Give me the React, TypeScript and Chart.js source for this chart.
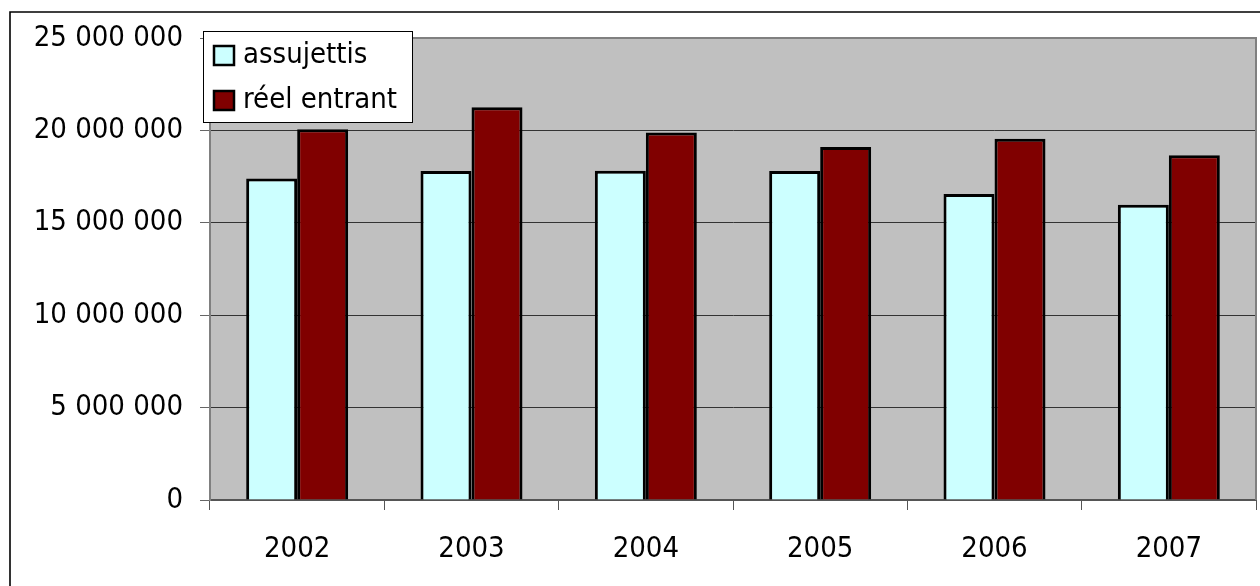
import React, { useEffect, useRef } from "react";
import { Chart, registerables } from "chart.js";

Chart.register(...registerables);

const CATEGORIES = ["2002", "2003", "2004", "2005", "2006", "2007"];
const SERIES_LABELS = ["assujettis", "réel entrant"];
const ASSUJETTIS = [17400000, 17800000, 17820000, 17800000, 16560000, 15980000];
const REEL_ENTRANT = [20060000, 21250000, 19880000, 19100000, 19550000, 18650000];
const Y_TICKS = [0, 5000000, 10000000, 15000000, 20000000, 25000000];

const FONT_FAMILY = "'DejaVu Sans Condensed', 'DejaVu Sans', sans-serif";
const FONT_SIZE = 29;

const fmt = (v: number) => String(Math.round(v)).replace(/\B(?=(\d{3})+(?!\d))/g, " ");

const framePlugin = {
  id: "framePlugin",
  beforeDraw(chart: any) {
    const { ctx, chartArea: a } = chart;
    ctx.save();
    ctx.fillStyle = "#ffffff";
    ctx.fillRect(0, 0, chart.width, chart.height);
    ctx.fillStyle = "#C0C0C0";
    ctx.fillRect(a.left, a.top, a.right - a.left, a.bottom - a.top);
    ctx.restore();
  },
  afterDraw(chart: any) {
    const { ctx, chartArea: a } = chart;
    ctx.save();
    // plot-area border top/right
    ctx.strokeStyle = "#808080";
    ctx.lineWidth = 2;
    ctx.beginPath();
    ctx.moveTo(a.left, a.top);
    ctx.lineTo(a.right, a.top);
    ctx.lineTo(a.right, a.bottom);
    ctx.stroke();
    // outer chart frame (left and top visible)
    ctx.strokeStyle = "#000000";
    ctx.lineWidth = 1.6;
    ctx.beginPath();
    ctx.moveTo(10, chart.height + 5);
    ctx.lineTo(10, 12);
    ctx.lineTo(chart.width + 5, 12);
    ctx.stroke();
    // legend
    const lx = a.left - 7;
    const ly = a.top - 7;
    const lw = 209;
    const lh = 91;
    ctx.fillStyle = "#ffffff";
    ctx.fillRect(lx, ly, lw, lh);
    ctx.strokeStyle = "#000000";
    ctx.lineWidth = 1;
    ctx.strokeRect(lx + 0.5, ly + 0.5, lw, lh);
    ctx.font = `${FONT_SIZE}px ${FONT_FAMILY}`;
    ctx.textBaseline = "middle";
    ctx.textAlign = "left";
    chart.data.datasets.forEach((ds: any, i: number) => {
      const sx = lx + 11;
      const sy = ly + 15 + i * 45;
      ctx.fillStyle = ds.backgroundColor;
      ctx.fillRect(sx, sy, 20, 19);
      ctx.strokeStyle = "#000000";
      ctx.lineWidth = 2.5;
      ctx.strokeRect(sx, sy, 20, 19);
      ctx.fillStyle = "#000000";
      ctx.fillText(ds.label, lx + 40, sy + 9);
    });
    ctx.restore();
  },
};

export default function App() {
  const ref = useRef<HTMLCanvasElement | null>(null);
  useEffect(() => {
    if (!ref.current) return;
    const chart = new Chart(ref.current, {
      type: "bar",
      data: {
        labels: CATEGORIES,
        datasets: [
          {
            label: SERIES_LABELS[0],
            data: ASSUJETTIS,
            backgroundColor: "#CCFFFF",
            borderColor: "#000000",
            borderWidth: 3,
            categoryPercentage: 0.585,
            barPercentage: 1,
          },
          {
            label: SERIES_LABELS[1],
            data: REEL_ENTRANT,
            backgroundColor: "#800000",
            borderColor: "#000000",
            borderWidth: 3,
            categoryPercentage: 0.585,
            barPercentage: 1,
          },
        ],
      },
      options: {
        responsive: false,
        animation: false,
        devicePixelRatio: 1,
        layout: { padding: { left: 0, top: 38, right: 4, bottom: 0 } },
        plugins: { legend: { display: false }, tooltip: { enabled: false } },
        scales: {
          x: {
            offset: true,
            grid: {
              offset: true,
              drawOnChartArea: false,
              drawTicks: true,
              tickLength: 10,
              tickColor: "#555555",
            },
            border: { display: true, color: "#555555", width: 2 },
            ticks: {
              color: "#000000",
              padding: 22,
              font: { family: FONT_FAMILY, size: FONT_SIZE },
            },
            afterFit(scale: any) {
              scale.height = 86;
            },
          },
          y: {
            min: 0,
            max: 25000000,
            afterBuildTicks(scale: any) {
              scale.ticks = Y_TICKS.map((v) => ({ value: v }));
            },
            grid: {
              color: "#333333",
              lineWidth: 1,
              drawTicks: true,
              tickLength: 10,
              tickColor: "#666666",
            },
            border: { display: true, color: "#808080", width: 2 },
            ticks: {
              color: "#000000",
              padding: 17,
              font: { family: FONT_FAMILY, size: FONT_SIZE },
              callback: (v: any) => fmt(Number(v)),
            },
            afterFit(scale: any) {
              scale.width = 210;
            },
          },
        },
      },
      plugins: [framePlugin],
    } as any);
    return () => chart.destroy();
  }, []);
  return (
    <div style={{ position: "absolute", left: 0, top: 0, width: 1260, height: 586 }}>
      <canvas ref={ref} width={1260} height={586} style={{ width: 1260, height: 586, display: "block" }} />
    </div>
  );
}
